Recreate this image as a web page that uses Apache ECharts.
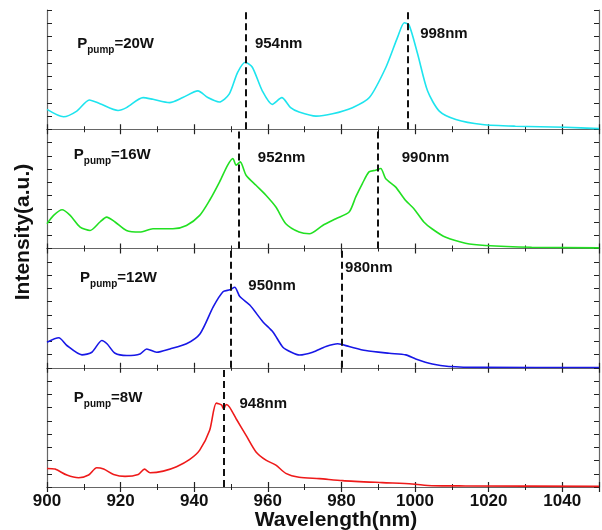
<!DOCTYPE html>
<html><head><meta charset="utf-8">
<script src="https://cdn.jsdelivr.net/npm/echarts@6/dist/echarts.min.js"></script>
<style>html,body{margin:0;padding:0;background:#fff}#c{width:602px;height:530px}</style>
</head><body><div id="c"></div>
<script>
// ---- data (wavelength nm, intensity a.u. per panel) ----
const wl20  = [900,904.5,908.1,911.5,914.4,919.3,921.6,926.1,928.8,933.3,936.9,941.0,943.7,946.8,949.5,951.8,953.9,955.8,958.5,961.2,963.8,966.2,968.5,973.1,977.6,983.0,987.6,992.1,995.3,997.1,998.4,1000.7,1003.4,1006.6,1011.1,1018.3,1027.3,1040.8,1050];
const int20 = [1.50,0.94,1.37,2.21,1.93,1.42,1.63,2.39,2.26,2.01,2.39,2.90,2.39,2.06,2.65,4.30,5.06,4.68,2.90,1.88,2.39,1.63,1.30,0.99,1.17,1.63,2.39,4.68,6.97,8.04,7.86,5.70,2.90,1.37,0.74,0.36,0.23,0.15,0.05];

const wl16  = [900,901.8,904.1,906.3,909.0,911.7,914.4,916.2,918.5,921.6,925.2,928.8,934.2,937.9,941.5,944.2,946.9,949.1,950.5,951.4,952.5,954.1,956.8,959.5,962.2,964.9,968.5,971.3,974.9,978.5,982.1,983.9,985.7,987.5,989.3,990.7,992.0,994.7,997.4,999.7,1002.4,1004.6,1008.2,1013.7,1019.1,1031.7,1050];
const int16 = [1.87,2.50,2.93,2.50,1.62,1.36,2.00,2.37,2.00,1.36,1.24,1.49,1.49,1.74,2.50,3.64,5.03,6.29,6.79,6.29,6.54,5.53,4.77,4.02,3.13,1.87,1.24,1.11,1.74,2.25,2.75,3.89,4.90,5.78,5.91,6.04,5.28,4.65,3.64,3.00,2.00,1.49,0.86,0.40,0.23,0.10,0.05];

const wl12  = [900,903.2,905.4,909.5,912.2,914.9,916.3,918.5,921.7,925.3,927.1,929.8,933.4,937.9,941.6,945.2,947.9,949.7,951.0,952.4,955.1,958.7,961.4,964.1,966.4,968.6,972.2,975.8,979.0,982.1,986.6,993.0,997.5,1000.2,1004.7,1009.2,1018.3,1050];
const int12 = [1.93,2.26,1.68,0.97,1.17,2.06,1.81,1.09,0.92,1.04,1.42,1.17,1.42,1.81,2.57,4.61,5.75,5.88,6.08,5.37,4.73,3.46,2.70,1.55,1.17,0.96,1.17,1.60,1.81,1.60,1.30,1.09,0.97,0.66,0.28,0.10,0.03,0.02];

const wl8   = [900,902.2,905.4,908.6,911.3,913.5,915.4,918.1,921.2,924.8,926.5,928.0,931.6,935.2,938.8,941.5,944.2,946.0,947.4,948.0,948.7,949.6,951.4,954.1,956.8,959.5,962.2,964.9,968.5,974.0,980.3,991.1,999.2,1004.6,1013.7,1050];
const int8  = [1.40,1.35,0.90,0.70,0.90,1.45,1.35,0.95,0.80,0.95,1.35,1.08,1.20,1.53,2.08,2.78,4.28,6.33,6.20,5.90,6.23,6.03,5.15,3.90,2.65,2.03,1.65,1.03,0.73,0.63,0.48,0.33,0.23,0.10,0.08,0.05];

const powers = ['20W','16W','12W','8W'];
const peaks20 = [954, 998];
const peaks16 = [952, 990];
const peaks12 = [950, 980];
const peaks8  = [948];
const xTicks = [900, 920, 940, 960, 980, 1000, 1020, 1040];

// ---- layout / style ----
const colors = ['#1ee4ee', '#22e022', '#1717e6', '#ee1a1a'];
const panelX = [wl20, wl16, wl12, wl8];
const panelY = [int20, int16, int12, int8];
const panelPeaks = [peaks20, peaks16, peaks12, peaks8];
// label anchors in data coordinates
const powerPos = [[908.2, 7.0], [907.3, 7.65], [909.0, 7.33], [907.3, 7.29]];
const peakPos = [
  [[956.5, 6.42], [1001.4, 7.22]],
  [[957.3, 6.84], [996.4, 6.84]],
  [[954.7, 6.16], [981.0, 7.53]],
  [[952.3, 6.29]]
];
const FONT = 'Liberation Sans, Arial, sans-serif';
const gridTop = 10, gridH = 119.25, gridLeft = 47, gridRight = 3;
const frame = '#666';

const grids = [], xAxes = [], yAxes = [], series = [];
for (let i = 0; i < 4; i++) {
  grids.push({left: gridLeft, right: gridRight, top: gridTop + i * gridH, height: gridH});
  const last = i === 3;
  const xBase = {
    type: 'value', gridIndex: i, min: 900, max: 1050, interval: 20,
    axisLine: {show: true, lineStyle: {color: frame, width: 1.2}},
    axisTick: {show: true, inside: true, length: 5, lineStyle: {color: '#222', width: 1.2}},
    minorTick: {show: true, splitNumber: 2, length: 3, lineStyle: {color: '#222', width: 1}},
    splitLine: {show: false}, minorSplitLine: {show: false}
  };
  xAxes.push(Object.assign({}, xBase, {
    position: 'bottom',
    axisLabel: {show: last, showMaxLabel: false, fontFamily: FONT, fontSize: 17, fontWeight: 'bold', color: '#111', margin: 6,
      formatter: v => xTicks.includes(v) ? String(v) : ''}
  }));
  xAxes.push(Object.assign({}, xBase, {position: 'top', axisLabel: {show: false}}));
  const yBase = {
    type: 'value', gridIndex: i, min: 0, max: 9, interval: 1,
    axisLine: {show: true, lineStyle: {color: frame, width: 1.2}},
    axisTick: {show: true, inside: true, length: 5, lineStyle: {color: '#222', width: 1}},
    axisLabel: {show: false}, splitLine: {show: false}
  };
  yAxes.push(Object.assign({}, yBase, {position: 'left'}));
  yAxes.push(Object.assign({}, yBase, {position: 'right'}));
  series.push({
    type: 'line', xAxisIndex: 2 * i, yAxisIndex: 2 * i,
    data: panelX[i].map((x, k) => [x, panelY[i][k]]),
    showSymbol: false, smooth: 0.25, silent: true,
    lineStyle: {color: colors[i], width: 1.6},
    markLine: {
      silent: true, symbol: 'none', animation: false,
      label: {show: false},
      lineStyle: {color: '#111', type: [7, 4], width: 2},
      data: panelPeaks[i].map(p => ({xAxis: p}))
    },
    z: 3
  });
}

const chart = echarts.init(document.getElementById('c'), null, {renderer: 'canvas'});
chart.setOption({
  animation: false,
  backgroundColor: '#fff',
  grid: grids, xAxis: xAxes, yAxis: yAxes, series: series
});

const g = [];
for (let i = 0; i < 4; i++) {
  const p = chart.convertToPixel({xAxisIndex: 2 * i, yAxisIndex: 2 * i}, powerPos[i]);
  g.push({
    type: 'text', left: p[0], top: p[1], z: 10,
    style: {
      text: '{a|P}{s|pump}{a|=' + powers[i] + '}',
      rich: {
        a: {fontFamily: FONT, fontSize: 15, fontWeight: 'bold', fill: '#111', lineHeight: 15, verticalAlign: 'top'},
        s: {fontFamily: FONT, fontSize: 10, fontWeight: 'bold', fill: '#111', lineHeight: 12, padding: [9, 0, 0, 0], verticalAlign: 'top'}
      }
    }
  });
  panelPeaks[i].forEach((pk, k) => {
    const q = chart.convertToPixel({xAxisIndex: 2 * i, yAxisIndex: 2 * i}, peakPos[i][k]);
    g.push({
      type: 'text', x: q[0], y: q[1], z: 10,
      style: {text: pk + 'nm', fontFamily: FONT, fontSize: 15, fontWeight: 'bold', fill: '#111', textAlign: 'left', textVerticalAlign: 'middle'}
    });
  });
}
g.push({type: 'text', x: 336, y: 520, z: 10,
  style: {text: 'Wavelength(nm)', fontFamily: FONT, fontSize: 21, fontWeight: 'bold', fill: '#111', textAlign: 'center', textVerticalAlign: 'middle'}});
g.push({type: 'text', x: 23, y: 232, rotation: Math.PI / 2, z: 10,
  style: {text: 'Intensity(a.u.)', fontFamily: FONT, fontSize: 21, fontWeight: 'bold', fill: '#111', textAlign: 'center', textVerticalAlign: 'middle'}});
chart.setOption({graphic: g});
</script>
</body></html>
